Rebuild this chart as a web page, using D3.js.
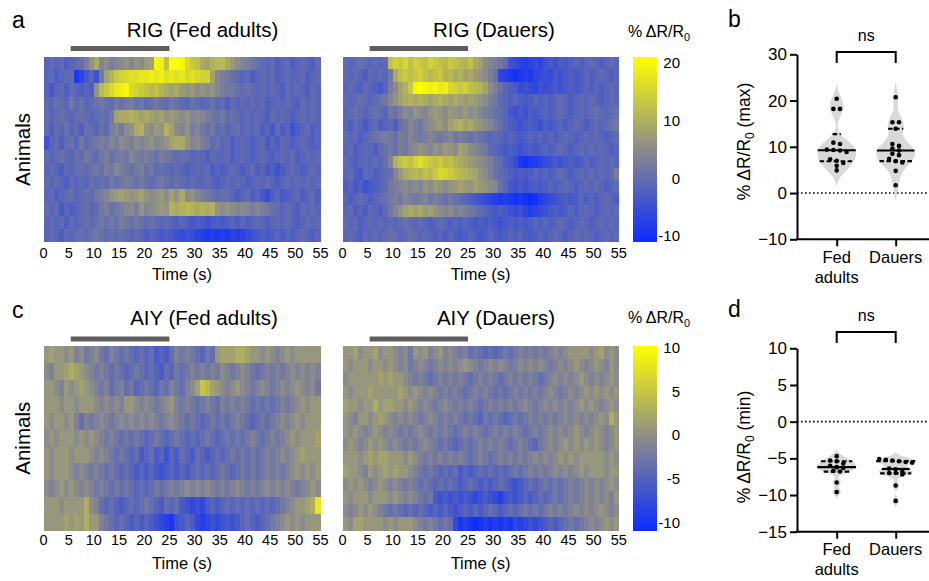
<!DOCTYPE html>
<html><head><meta charset="utf-8">
<script src="https://cdn.jsdelivr.net/npm/d3@7"></script>
<style>
body{margin:0;background:#fff}
svg text{font-family:"Liberation Sans",Arial,Helvetica,sans-serif;fill:#000}
</style>
</head><body>
<svg id="c" width="929" height="581"></svg>
<script>
// ---------------- DATA ----------------
const timeTicks = [0,5,10,15,20,25,30,35,40,45,50,55];
const stimulus = [5.4, 25];
const rigColorStops = [-10, 5, 20];
const aiyColorStops = [-10, 0, 10];
const rigBarTicks = [-10, 0, 10, 20];
const aiyBarTicks = [-10, -5, 0, 5, 10];
const groups = ["Fed adults", "Dauers"];
const maxTicks = [-10, 0, 10, 20, 30];
const minTicks = [-15, -10, -5, 0, 5, 10];

// % dR/R0, one value per second (0..54 s), one row per animal
const rigFed = [
[-1,0,-1,0,-2, -1,0,1,3,6, 9,4,5,3,4, 5,6,4,6,5, 7,8,19,18,12, 20,20,19,15,13, 12,9,8,10,11, 11,9,7,5,4, 3,2,1,0,-1, 0,-2,-1,0,-2, -1,0,-1,-2,0],
[-1,0,-2,-1,0, 0,-8,-6,-3,-1, -4,2,8,10,13, 14,15,16,16,17, 17,18,17,18,16, 17,16,17,15,16, 15,14,14,8,4, 3,2,1,0,-1, 0,-2,-1,0,-1, 0,-2,-1,0,-1, -1,0,-2,-1,0],
[-1,-3,-1,0,-2, 0,-1,-2,-1,-2, 6,11,13,15,17, 18,19,15,14,13, 12,11,12,10,9, 8,9,7,6,7, 5,6,5,6,4, 3,2,2,1,0, 1,0,-1,0,-1, 0,-1,-2,0,-1, 0,-1,-2,0,-1],
[0,-1,1,0,-1, 2,0,1,-1,0, 1,2,1,0,2, 1,2,3,1,2, 0,1,2,1,0, 2,1,0,-1,1, 0,-1,0,1,-1, 0,-2,0,-1,0, -1,0,-1,0,-2, -1,0,-1,0,-1, -2,0,-1,0,-1],
[0,-1,0,1,0, -1,0,1,0,-1, 0,1,0,2,8, 9,9,10,9,8, 9,8,7,8,6, 7,6,5,6,4, 5,4,3,2,1, 2,0,1,0,-1, 0,-1,0,-1,-2, 0,-1,0,-1,-2, -1,0,-1,0,-1],
[0,-2,0,-1,1, -1,0,-2,1,0, -1,1,0,3,4, 2,5,6,9,10, 6,5,7,6,10, 8,5,4,6,3, 4,2,1,2,0, 1,-1,0,1,-1, 0,-1,0,-2,-1, -3,0,-2,-1,-4, -2,-1,0,-2,-1],
[-4,-1,0,-2,0, 1,-1,2,0,1, 2,3,2,4,3, 5,4,3,5,4, 5,6,4,5,6, 8,9,9,6,4, 5,3,2,0,1, -1,0,-2,-1,0, -1,-2,-1,0,-3, -1,-2,0,-1,-2, -1,0,-1,-2,-1],
[0,-1,0,1,0, -1,1,0,2,1, 0,2,3,1,2, 3,2,4,3,2, 3,2,1,3,2, 1,0,1,0,-1, 0,-1,-2,0,-1, -1,0,-2,-1,0, -1,-2,-1,0,-1, -2,-1,0,-1,0, -2,-1,0,-1,0],
[-1,0,-1,-2,0, -1,0,1,0,1, 2,1,3,2,4, 3,2,1,2,3, 1,2,0,1,0, -1,0,-1,-2,-1, 0,-1,0,-2,-1, -2,-1,0,-1,-2, -1,0,-2,-1,-3, -2,-4,-2,-1,0, -1,-2,-1,0,-1],
[0,-1,0,-1,-2, 0,-1,0,-1,1, 0,1,0,2,1, 2,3,2,1,2, 1,0,1,2,1, 0,1,0,-1,0, -1,-1,0,-1,-2, -1,0,-1,0,-1, -2,-1,0,-1,0, -1,-2,-1,0,-1, 0,-1,0,-1,0],
[-1,0,-2,-1,0, 1,-1,0,1,0, 2,3,4,6,7, 8,7,6,7,8, 6,5,6,7,5, 8,6,9,5,6, 4,3,2,1,0, 1,0,-1,-2,-1, 0,-2,-1,-3,-5, -2,-1,-3,-2,-1, 0,-2,-1,0,-2],
[0,-1,0,-3,-1, -2,-1,0,1,-1, 0,2,3,1,2, 3,4,5,3,6, 4,5,6,7,6, 10,9,10,11,10, 9,10,9,10,6, 5,6,5,4,5, 4,3,4,3,2, 1,0,-1,0,-1, -2,0,-1,0,-1],
[-1,0,-1,0,-2, 0,-1,0,1,0, 1,2,1,2,1, 3,2,1,2,1, 0,1,0,-1,0, -1,-2,-1,-2,-3, -2,-3,-4,-3,-2, -3,-2,-1,-2,-1, -2,-1,0,-1,-2, -1,0,-1,0,-1, -2,-1,0,-1,0],
[-1,0,-1,-2,0, -1,0,1,0,1, 2,1,0,1,0, 1,0,-1,0,-1, -2,-1,-2,-3,-2, -3,-4,-5,-4,-5, -6,-7,-8,-7,-8, -7,-8,-6,-7,-6, -5,-4,-3,-2,-3, -2,-1,-2,-1,-2, -1,0,-1,-2,-1]
];
const rigDauer = [
[0,-1,0,1,0, -1,0,-1,0,12, 14,13,15,12,14, 13,12,14,13,12, 11,13,12,11,10, 12,9,8,5,4, 3,2,0,-4,-5, -6,-7,-6,-5,-6, -4,-3,-4,-2,-3, -2,-1,-2,-1,0, -1,-2,-1,0,-1],
[0,-1,0,-1,-2, 0,-1,0,-1,2, 9,12,13,12,13, 14,12,11,12,13, 10,11,9,10,8, 9,7,6,5,3, 1,-6,-7,-8,-9, -8,-7,-8,-6,-5, -4,-5,-3,-4,-3, -2,-3,-2,-1,-2, -1,0,-1,-2,-1],
[-1,0,-1,-2,0, -1,-2,-3,-1,3, 5,8,10,13,19, 20,19,18,19,17, 18,15,14,13,14, 12,11,10,8,5, 3,1,-1,-2,-3, -5,-4,-5,-6,-4, -5,-4,-3,-4,-3, -2,-3,-2,-1,-2, -1,-2,-1,0,-1],
[0,-1,0,1,0, -1,0,1,2,4, 6,8,9,10,9, 10,9,8,9,10, 9,8,9,8,7, 8,7,6,5,3, 2,0,-1,-2,-1, -2,-3,-2,-1,-2, -1,-2,-1,0,-1, -2,-1,0,-1,0, -1,-2,-1,0,-1],
[-1,0,1,0,-1, 0,1,0,-1,2, 1,3,5,4,6, 5,4,6,7,6, 5,7,6,5,7, 5,6,4,3,2, 1,0,-1,-3,-4, -3,-4,-2,-3,-2, -1,-2,-1,0,-1, -2,-1,0,-1,0, 1,0,-1,0,1],
[-1,-2,0,-1,-3, -1,0,-2,-1,0, -2,1,2,4,3, 2,4,5,6,7, 5,8,9,10,8, 9,7,6,5,4, 2,1,-1,-2,-3, -4,-3,-2,-3,-4, -2,-3,-2,-1,-2, -1,0,-1,-2,-1, 0,-1,0,1,2],
[0,-1,0,-2,-1, 0,1,2,3,2, 1,3,2,4,3, 2,3,4,3,2, 3,4,2,3,2, 1,2,1,0,-1, 0,-1,-2,-1,-2, -3,-2,-1,-2,-1, -2,-1,-2,-1,0, -1,-2,-1,0,-1, 0,-1,-2,-1,0],
[-1,0,-2,-1,0, -1,-2,0,1,2, 1,3,2,4,5, 6,5,4,6,5, 7,6,5,8,7, 5,4,3,2,0, -1,-2,-3,-2,-3, -4,-3,-2,-3,-2, -1,-2,-1,0,-1, -2,-1,0,-1,0, -1,0,-1,-2,-1],
[0,-1,-2,-1,0, -1,0,-1,1,4, 10,12,13,12,14, 16,14,13,12,13, 11,12,10,9,8, 7,6,5,4,3, 1,0,-2,-3,-5, -8,-9,-8,-7,-6, -5,-4,-3,-4,-3, -2,-3,-2,-1,-2, -1,0,-1,0,-1],
[-1,0,-2,-3,0, -1,-2,-1,0,1, 4,7,9,10,11, 10,12,11,13,15, 14,13,12,11,10, 9,8,6,5,3, 1,0,-1,-2,-3, -2,-3,-2,-1,-2, -1,-2,-1,0,-1, -2,-1,0,-1,0, -1,0,-1,0,3],
[-2,-1,-3,-2,-4, -3,-2,-1,0,2, 3,4,5,4,5, 4,6,5,7,6, 5,6,7,8,7, 6,8,7,6,5, 4,1,-1,-3,-4, -3,-4,-3,-2,-3, -2,-1,-2,-1,0, -1,-2,-1,0,-1, 0,-1,-2,-1,0],
[-1,-2,-1,0,-1, -2,-1,0,1,2, 3,2,4,3,2, 3,4,2,3,2, 1,2,1,0,-1, -2,-3,-4,-5,-6, -7,-8,-7,-8,-9, -8,-9,-10,-9,-7, -6,-5,-4,-3,-2, -3,-2,-1,-2,-1, -2,-1,0,-1,-2],
[-1,0,-2,-1,-2, 0,-1,-2,0,2, 4,6,8,9,8, 9,7,8,6,5, 4,5,3,4,3, 2,1,0,-1,-2, -3,-2,-3,-4,-5, -4,-6,-7,-6,-5, -4,-3,-2,-3,-2, -1,-2,-1,0,-1, -2,-1,0,-1,0],
[0,-1,0,-2,-1, 0,-1,0,-1,0, -1,0,1,0,-1, 0,-1,-2,-1,0, -1,-2,-1,-2,-1, -2,-3,-2,-3,-2, -3,-4,-3,-2,-3, -2,-3,-2,-1,-2, -1,-2,-1,0,-1, -2,-1,0,-1,-2, -1,0,-1,0,-1],
[-1,0,-1,-2,0, -1,0,-1,0,1, 0,-1,0,1,0, -1,0,-1,-2,-1, -2,-1,-2,-3,-2, -1,-2,-3,-2,-1, -2,-3,-2,-1,-2, -1,-2,-3,-2,-1, -2,-1,0,-1,-2, -1,0,-1,0,-1, -2,-1,0,-1,0]
];
const aiyFed = [
[1,2,1,1,0, 1,-1,0,-2,-1, 0,-2,-3,-1,-2, -3,-2,-3,-4,-3, -4,-3,-5,-4,-5, -3,-1,-2,-1,-2, -3,-4,-2,-3,1, 2,2,2,3,3, 2,1,1,0,1, 0,-1,0,1,0, 1,1,1,1,1],
[0,-1,1,1,2, 3,2,1,0,-1, -2,-1,-2,-3,-2, -3,-4,-3,-2,-3, -4,-3,-4,-5,-3, -4,-2,-3,-2,-1, -2,-1,-2,-1,-2, 0,-1,-2,-1,0, -1,-2,-3,-2,-1, -2,-1,-2,-1,0, -1,0,-1,0,-1],
[1,1,0,-1,1, 0,1,2,1,0, -1,-2,-1,-3,-2, -1,-3,-2,-4,-3, -2,-3,-4,-2,-3, -1,-2,-3,-1,0, 2,5,4,2,1, 0,-1,0,1,0, -1,-2,-1,0,-1, -2,-1,0,-1,0, 1,0,-1,0,-2],
[1,1,1,0,1, 1,0,1,1,1, 0,-1,0,-1,0, -1,1,1,0,-1, 0,-1,-2,-1,0, 1,-1,-2,-1,-2, -3,-2,-1,-2,-3, -1,-2,-1,-2,-1, -2,-3,-2,-3,-2, -3,-2,-1,-2,-1, 0,1,0,1,1],
[1,0,1,1,0, 1,-1,-3,-1,-2, -1,0,-1,-2,-1, 0,-1,0,-1,0, -1,0,-1,-2,-1, 0,-1,-2,-3,-2, -3,-4,-3,-2,-3, -2,-3,-2,-1,-2, -3,-4,-3,-2,-3, -2,-1,0,-1,0, 1,0,1,1,1],
[0,1,0,1,1, 1,0,1,0,1, 0,-1,-2,-1,-2, -3,-2,-3,-2,-3, -4,-3,-2,-3,-4, -3,-2,-3,-4,-3, -4,-3,-2,-3,-4, -3,-2,-3,-2,-3, -2,-1,-2,-3,-2, -1,-2,-1,0,1, 0,1,1,1,2],
[1,0,1,1,1, 0,1,1,1,0, -1,0,-1,-2,-3, -2,-3,-4,-3,-5, -4,-3,-5,-4,-6, -4,-5,-3,-4,-5, -3,-4,-5,-4,-3, -4,-3,-2,-3,-2, -3,-2,-3,-2,-1, -2,-1,0,-1,0, 1,2,1,1,1],
[1,0,1,1,1, 0,-1,0,-1,-2, -1,-2,-3,-2,-3, -4,-3,-4,-5,-4, -5,-4,-5,-6,-5, -4,-5,-4,-5,-4, -3,-4,-3,-4,-3, -2,-3,-4,-3,-2, -3,-2,-3,-2,-1, -2,-1,-2,-1,0, 1,0,1,0,1],
[0,-1,0,1,0, 1,0,-1,0,-1, -2,-1,-2,-3,-2, -3,-2,-3,-4,-3, -4,-3,-2,-3,-2, -1,-2,-1,0,-1, 0,-1,0,-1,-2, -1,-2,-1,0,-1, -2,-1,-2,-1,0, -1,0,-1,0,-1, -2,-1,0,1,0],
[1,1,1,0,1, 1,1,1,3,0, -1,-3,-4,-3,-4, -5,-4,-3,-4,-3, -2,-3,-4,-5,-3, -4,-3,-5,-6,-7, -6,-7,-5,-4,-5, -4,-3,-4,-3,-4, -3,-4,-3,-4,-3, -4,-3,-2,-1,0, 1,1,2,3,8],
[1,1,1,1,2, 1,2,1,3,1, 1,-1,-2,-3,-4, -3,-4,-5,-4,-5, -4,-5,-6,-7,-8, -9,-6,-5,-4,-5, -7,-8,-7,-6,-7, -6,-5,-6,-5,-4, -3,-4,-5,-4,-3, -2,-1,0,1,0, 1,0,1,1,1]
];
const aiyDauer = [
[1,1,2,0,1, 1,2,0,1,1, 0,-1,0,-2,1, 0,1,-1,0,1, -1,0,-1,-2,-1, -3,-2,-3,-4,-3, -4,-3,-2,-3,-2, -1,-2,-1,-2,-1, -2,-1,0,-1,0, 1,1,1,1,0, 1,2,0,1,0],
[1,0,1,1,1, 0,1,1,0,1, 0,-1,0,-2,-1, 0,-1,-2,-1,0, -1,0,-1,0,1, 0,-1,-2,-1,0, -1,0,-1,-2,-1, 0,-1,0,-1,0, -1,-2,-1,0,-1, 0,1,0,-1,0, 1,0,-1,1,0],
[0,1,1,1,1, 1,1,2,1,2, 1,1,0,-1,-2, -1,-2,-3,-2,-1, -2,-1,-2,-1,-2, -3,-2,-1,-2,-1, -2,-3,-2,-1,-2, -1,-2,-1,-2,-3, -2,-1,0,-1,0, -1,0,1,0,-1, 0,-1,0,1,0],
[1,0,1,1,1, 2,1,1,1,1, 1,2,1,0,1, 0,-1,0,-1,-2, -1,-2,-1,-2,-3, -2,-1,-2,-1,-2, -3,-2,-3,-2,-1, -2,-1,-2,-1,-2, -1,0,-1,-2,-1, 0,-1,0,1,0, 1,0,1,0,1],
[2,1,1,0,1, 1,3,1,2,2, 1,1,0,1,0, -1,0,-1,-2,-1, 0,-1,-2,-1,-2, -1,-2,-3,-2,-1, -2,-1,-2,-1,-2, -1,0,-1,-2,-1, 0,-1,0,-1,0, -1,0,1,0,1, 0,-1,0,1,0],
[1,0,-1,1,1, 0,1,2,1,0, -1,0,-1,0,-1, -2,-1,0,-1,-2, -1,-2,-1,-2,-3, -2,-3,-4,-2,-3, -2,-3,-4,-3,-2, -3,-2,-1,-2,-1, -2,-1,-2,-1,0, -1,0,-1,0,-1, 0,1,0,3,1],
[1,0,1,0,-1, 0,1,0,-1,0, -1,-2,-1,-2,-1, 0,-1,-2,-1,-2, -1,-2,-3,-2,-1, -2,-1,-2,-3,-2, -1,-2,-1,-2,-1, -2,-3,-2,-1,-2, -1,0,-1,0,-1, 0,1,0,-1,0, 1,0,-1,0,1],
[0,1,0,-1,0, 1,0,1,0,-1, 0,-1,-2,-1,-2, -1,0,-1,-2,-3, -2,-3,-4,-3,-2, -3,-2,-1,-2,-1, -2,-1,-2,-3,-2, -1,-2,-3,-4,-2, -1,0,-1,0,1, 0,1,0,1,0, 1,0,-1,0,1],
[1,1,1,0,1, 2,1,2,2,1, 1,1,0,1,0, -1,-2,-1,-2,-1, -2,-1,-2,-1,-2, -3,-2,-1,-2,-3, -2,-1,-2,-1,-2, -1,-2,-1,0,-1, 0,-1,0,1,0, 1,0,1,1,1, 1,1,0,1,0],
[2,1,1,0,-1, 1,0,1,2,1, 2,1,1,0,-1, -2,-3,-2,-3,-4, -3,-4,-3,-5,-4, -5,-4,-3,-4,-3, -4,-3,-4,-3,-2, -3,-2,-1,-2,-1, -2,-1,0,-1,0, -1,0,1,0,1, 1,1,0,1,1],
[0,1,0,1,0, -1,0,1,0,-1, 0,-1,-2,-1,-2, -3,-2,-3,-4,-3, -4,-3,-4,-5,-4, -3,-4,-5,-4,-5, -4,-3,-4,-5,-6, -5,-4,-3,-4,-3, -2,-3,-2,-3,-2, -1,-2,-1,0,-1, 0,-1,0,1,0],
[1,0,1,1,1, 0,1,1,1,0, 1,0,-1,0,-1, -2,-3,-2,-5,-6, -5,-6,-5,-6,-5, -6,-7,-6,-5,-6, -7,-8,-6,-5,-6, -5,-4,-5,-4,-3, -4,-3,-2,-3,-2, -1,-2,-1,0,-1, 0,-1,0,-1,1],
[0,-1,0,1,0, 1,0,-1,-2,-3, -2,-3,-4,-3,-4, -3,-4,-5,-4,-5, -4,-5,-6,-5,-4, -5,-4,-5,-4,-3, -4,-5,-4,-3,-4, -3,-2,-3,-2,-3, -2,-1,-2,-1,-2, -1,0,-1,0,-1, 0,1,0,-1,0],
[1,0,2,2,1, 1,1,1,0,1, 0,1,1,1,0, -1,-2,-1,-2,-3, -2,-3,-7,-9,-8, -9,-10,-9,-8,-9, -8,-9,-8,-9,-7, -8,-7,-6,-7,-6, -5,-4,-5,-4,-3, -2,-3,-2,-1,0, -1,0,1,0,1]
];

// peak (b) and trough (d) responses per animal
const maxFed   = [20.4, 18.2, 18.2, 10.9, 10.6, 9.4, 9.3, 9.2, 8.9, 7.3, 7.0, 6.5, 5.9, 4.9];
const maxDauer = [20.7, 15.3, 15.3, 13.9, 10.6, 10.2, 9.6, 9.2, 8.5, 8.2, 7.4, 6.9, 6.6, 4.8, 1.7];
const minFed   = [-4.7, -5.3, -5.4, -5.7, -6.0, -6.2, -6.3, -6.7, -6.8, -8.3, -9.6];
const minDauer = [-5.1, -5.2, -5.3, -5.4, -5.5, -5.6, -6.4, -6.5, -6.8, -7.0, -7.0, -7.2, -8.7, -10.8];

// ---------------- DRAWING ----------------
const svg = d3.select("#c");
const cmapColors = ["#0b2bff", "#8b8b8b", "#ffff00"];
const colorRIG = d3.scaleLinear().domain(rigColorStops).range(cmapColors).clamp(true);
const colorAIY = d3.scaleLinear().domain(aiyColorStops).range(cmapColors).clamp(true);

function addDR(sel, suffix) {
  sel.append("tspan").text("% \u0394R/R");
  sel.append("tspan").attr("dy", 4).attr("font-size", "0.68em").text("0");
  if (suffix) sel.append("tspan").attr("dy", -4).text(suffix);
}

function heatmap(data, box, color, title, titleX, titleY, stimY, tickY, labelY, animals) {
  const x = d3.scaleLinear().domain([0, 55]).range([box.x0, box.x1]);
  const y = d3.scaleBand().domain(d3.range(data.length)).range([box.y0, box.y1]);
  const g = svg.append("g");
  data.forEach((row, r) => {
    const step = 55 / row.length;
    g.append("g").selectAll("rect").data(row).join("rect")
      .attr("x", (d, i) => x(i * step))
      .attr("width", (d, i) => x((i + 1) * step) - x(i * step))
      .attr("y", y(r)).attr("height", y.bandwidth())
      .attr("fill", d => color(d))
      .attr("shape-rendering", "crispEdges");
  });
  g.selectAll("text.tk").data(timeTicks).join("text").attr("class", "tk")
    .attr("x", d => x(d)).attr("y", tickY).attr("text-anchor", "middle")
    .attr("font-size", 14.5).text(d => d);
  g.append("text").attr("x", (box.x0 + box.x1) / 2).attr("y", labelY)
    .attr("text-anchor", "middle").attr("font-size", 16.5).text("Time (s)");
  g.append("rect").attr("x", x(stimulus[0])).attr("width", x(stimulus[1]) - x(stimulus[0]))
    .attr("y", stimY - 2.5).attr("height", 5).attr("fill", "#5e5e5e");
  g.append("text").attr("x", titleX).attr("y", titleY).attr("text-anchor", "middle")
    .attr("font-size", 20.5).text(title);
  if (animals) {
    g.append("text").attr("transform", `translate(${box.x0 - 14},${(box.y0 + box.y1) / 2}) rotate(-90)`)
      .attr("text-anchor", "middle").attr("font-size", 20.5).text("Animals");
  }
}

function colorbar(id, color, stops, ticks, top, bottom, labTop, labBottom, titleY) {
  const grad = svg.append("defs").append("linearGradient").attr("id", id)
    .attr("x1", 0).attr("y1", 1).attr("x2", 0).attr("y2", 0);
  grad.selectAll("stop").data(stops).join("stop")
    .attr("offset", d => (d - stops[0]) / (stops[2] - stops[0]))
    .attr("stop-color", d => color(d));
  svg.append("rect").attr("x", 633).attr("y", top).attr("width", 24).attr("height", bottom - top)
    .attr("fill", `url(#${id})`);
  const s = d3.scaleLinear().domain([stops[0], stops[2]]).range([labBottom, labTop]);
  svg.append("g").selectAll("text").data(ticks).join("text")
    .attr("x", 680).attr("y", d => s(d)).attr("dy", "0.35em").attr("text-anchor", "end")
    .attr("font-size", 15).text(d => d);
  const t = svg.append("text").attr("x", 628).attr("y", titleY).attr("font-size", 16);
  addDR(t, "");
}

const LEFT = {x0: 43.5, x1: 320.5}, RIGHT = {x0: 342.5, x1: 618.7};
heatmap(rigFed, {...LEFT, y0: 57, y1: 242}, colorRIG, "RIG (Fed adults)", 202.5, 37, 48.5, 258, 280, true);
heatmap(rigDauer, {...RIGHT, y0: 57, y1: 242}, colorRIG, "RIG (Dauers)", 494, 37, 48.5, 258, 280, false);
heatmap(aiyFed, {...LEFT, y0: 346, y1: 530.5}, colorAIY, "AIY (Fed adults)", 204, 325, 339, 545, 569, true);
heatmap(aiyDauer, {...RIGHT, y0: 346, y1: 530.5}, colorAIY, "AIY (Dauers)", 496, 325, 339, 545, 569, false);
colorbar("gRIG", colorRIG, rigColorStops, rigBarTicks, 57, 242, 63, 236, 37);
colorbar("gAIY", colorAIY, aiyColorStops, aiyBarTicks, 346, 531, 347.5, 522.5, 323);

// panel letters
[["a", 12, 28], ["b", 728, 27], ["c", 12, 318], ["d", 728, 317]].forEach(([t, x, y]) =>
  svg.append("text").attr("x", x).attr("y", y).attr("font-size", 23).text(t));

function kdeAt(vals, h, v) {
  return d3.mean(vals, d => Math.exp(-0.5 * ((v - d) / h) ** 2));
}
function gpQuantile(sorted, p) {
  const n = sorted.length, pos = p * (n + 1);
  const lo = Math.max(1, Math.min(n, Math.floor(pos))), hi = Math.min(n, lo + 1);
  const f = Math.min(1, Math.max(0, pos - lo));
  return sorted[lo - 1] + f * (sorted[hi - 1] - sorted[lo - 1]);
}

function violinPanel(cfg) {
  const axisX = 797;
  const y = d3.scaleLinear().domain(cfg.domain).range(cfg.range);
  const x = d3.scalePoint().domain(groups).range([836.7, 895.7]);
  const g = svg.append("g");
  g.append("line").attr("x1", axisX).attr("x2", 929).attr("y1", y(0)).attr("y2", y(0))
    .attr("stroke", "#000").attr("stroke-width", 1.6).attr("stroke-dasharray", "1.6,2.4");
  [cfg.fed, cfg.dauer].forEach((vals, gi) => {
    const cx = x(groups[gi]);
    const lo = d3.min(vals) - cfg.ext, hi = d3.max(vals) + cfg.ext;
    const grid = d3.range(0, 101).map(i => lo + (hi - lo) * i / 100);
    const dens = grid.map(v => kdeAt(vals, cfg.bw, v));
    const dmin = Math.min(dens[0], dens[dens.length - 1]);
    const dmax = d3.max(dens) - dmin;
    const w = d => Math.max(0, (d - dmin) / dmax * 19.5);
    const pts = grid.map((v, i) => [v, dens[i]]);
    g.append("path").datum(pts)
      .attr("d", d3.area().y(d => y(d[0])).x0(d => cx - w(d[1])).x1(d => cx + w(d[1])).curve(d3.curveBasis))
      .attr("fill", "#d9d9d9");
    const sorted = vals.slice().sort(d3.ascending);
    [[0.25, true], [0.5, false], [0.75, true]].forEach(([p, dashed]) => {
      const q = gpQuantile(sorted, p);
      const hw = w(kdeAt(vals, cfg.bw, q));
      g.append("line").attr("x1", cx - hw).attr("x2", cx + hw).attr("y1", y(q)).attr("y2", y(q))
        .attr("stroke", "#000").attr("stroke-width", 2.2)
        .attr("stroke-dasharray", dashed ? "4.5,2.5" : null);
    });
    const rows = [];
    sorted.slice().reverse().forEach(v => {
      const last = rows[rows.length - 1];
      if (last && Math.abs(y(last[0]) - y(v)) < 4.2) last.push(v); else rows.push([v]);
    });
    rows.forEach(row => row.forEach((v, i) => {
      g.append("circle").attr("cx", cx + (i - (row.length - 1) / 2) * 6.6).attr("cy", y(v))
        .attr("r", 2.3).attr("fill", "#000");
    }));
  });
  const ax = g.append("g").attr("transform", `translate(${axisX},0)`)
    .call(d3.axisLeft(y).tickValues(cfg.ticks).tickSize(7).tickSizeOuter(0).tickPadding(3));
  ax.selectAll("path,line").attr("stroke", "#000").attr("stroke-width", 2);
  ax.selectAll("text").attr("font-size", 17).attr("font-family", "'Liberation Sans',Arial,sans-serif");
  g.append("line").attr("x1", axisX - 1).attr("x2", 929).attr("y1", y(cfg.domain[0])).attr("y2", y(cfg.domain[0]))
    .attr("stroke", "#000").attr("stroke-width", 2);
  const bx = g.append("g").attr("transform", `translate(0,${y(cfg.domain[0])})`)
    .call(d3.axisBottom(x).tickSize(7).tickSizeOuter(0).tickFormat(""));
  bx.select(".domain").remove();
  bx.selectAll("line").attr("stroke", "#000").attr("stroke-width", 2);
  groups.forEach(gr => {
    const t = g.append("text").attr("x", x(gr)).attr("y", cfg.catY).attr("text-anchor", "middle").attr("font-size", 16.5);
    const parts = gr === "Fed adults" ? ["Fed", "adults"] : [gr];
    parts.forEach((p, i) => t.append("tspan").attr("x", x(gr)).attr("dy", i ? 20 : 0).text(p));
  });
  const yt = g.append("text").attr("transform", `translate(750,${cfg.titleY}) rotate(-90)`)
    .attr("text-anchor", "middle").attr("font-size", 17.5);
  addDR(yt, cfg.suffix);
  g.append("path").attr("d", `M${x(groups[0])},${cfg.brY + 11}V${cfg.brY}H${x(groups[1])}V${cfg.brY + 11}`)
    .attr("fill", "none").attr("stroke", "#000").attr("stroke-width", 2);
  g.append("text").attr("x", (x(groups[0]) + x(groups[1])) / 2).attr("y", cfg.brY - 11)
    .attr("text-anchor", "middle").attr("font-size", 16).text("ns");
}

violinPanel({fed: maxFed, dauer: maxDauer, domain: [-10, 30], range: [239.3, 54.3], ticks: maxTicks,
  bw: 1.7, ext: 3.6, catY: 263, titleY: 141.5, suffix: " (max)", brY: 52});
violinPanel({fed: minFed, dauer: minDauer, domain: [-15, 10], range: [531.7, 348.3], ticks: minTicks,
  bw: 0.42, ext: 0.95, catY: 555, titleY: 447, suffix: " (min)", brY: 332});
</script>
</body></html>
